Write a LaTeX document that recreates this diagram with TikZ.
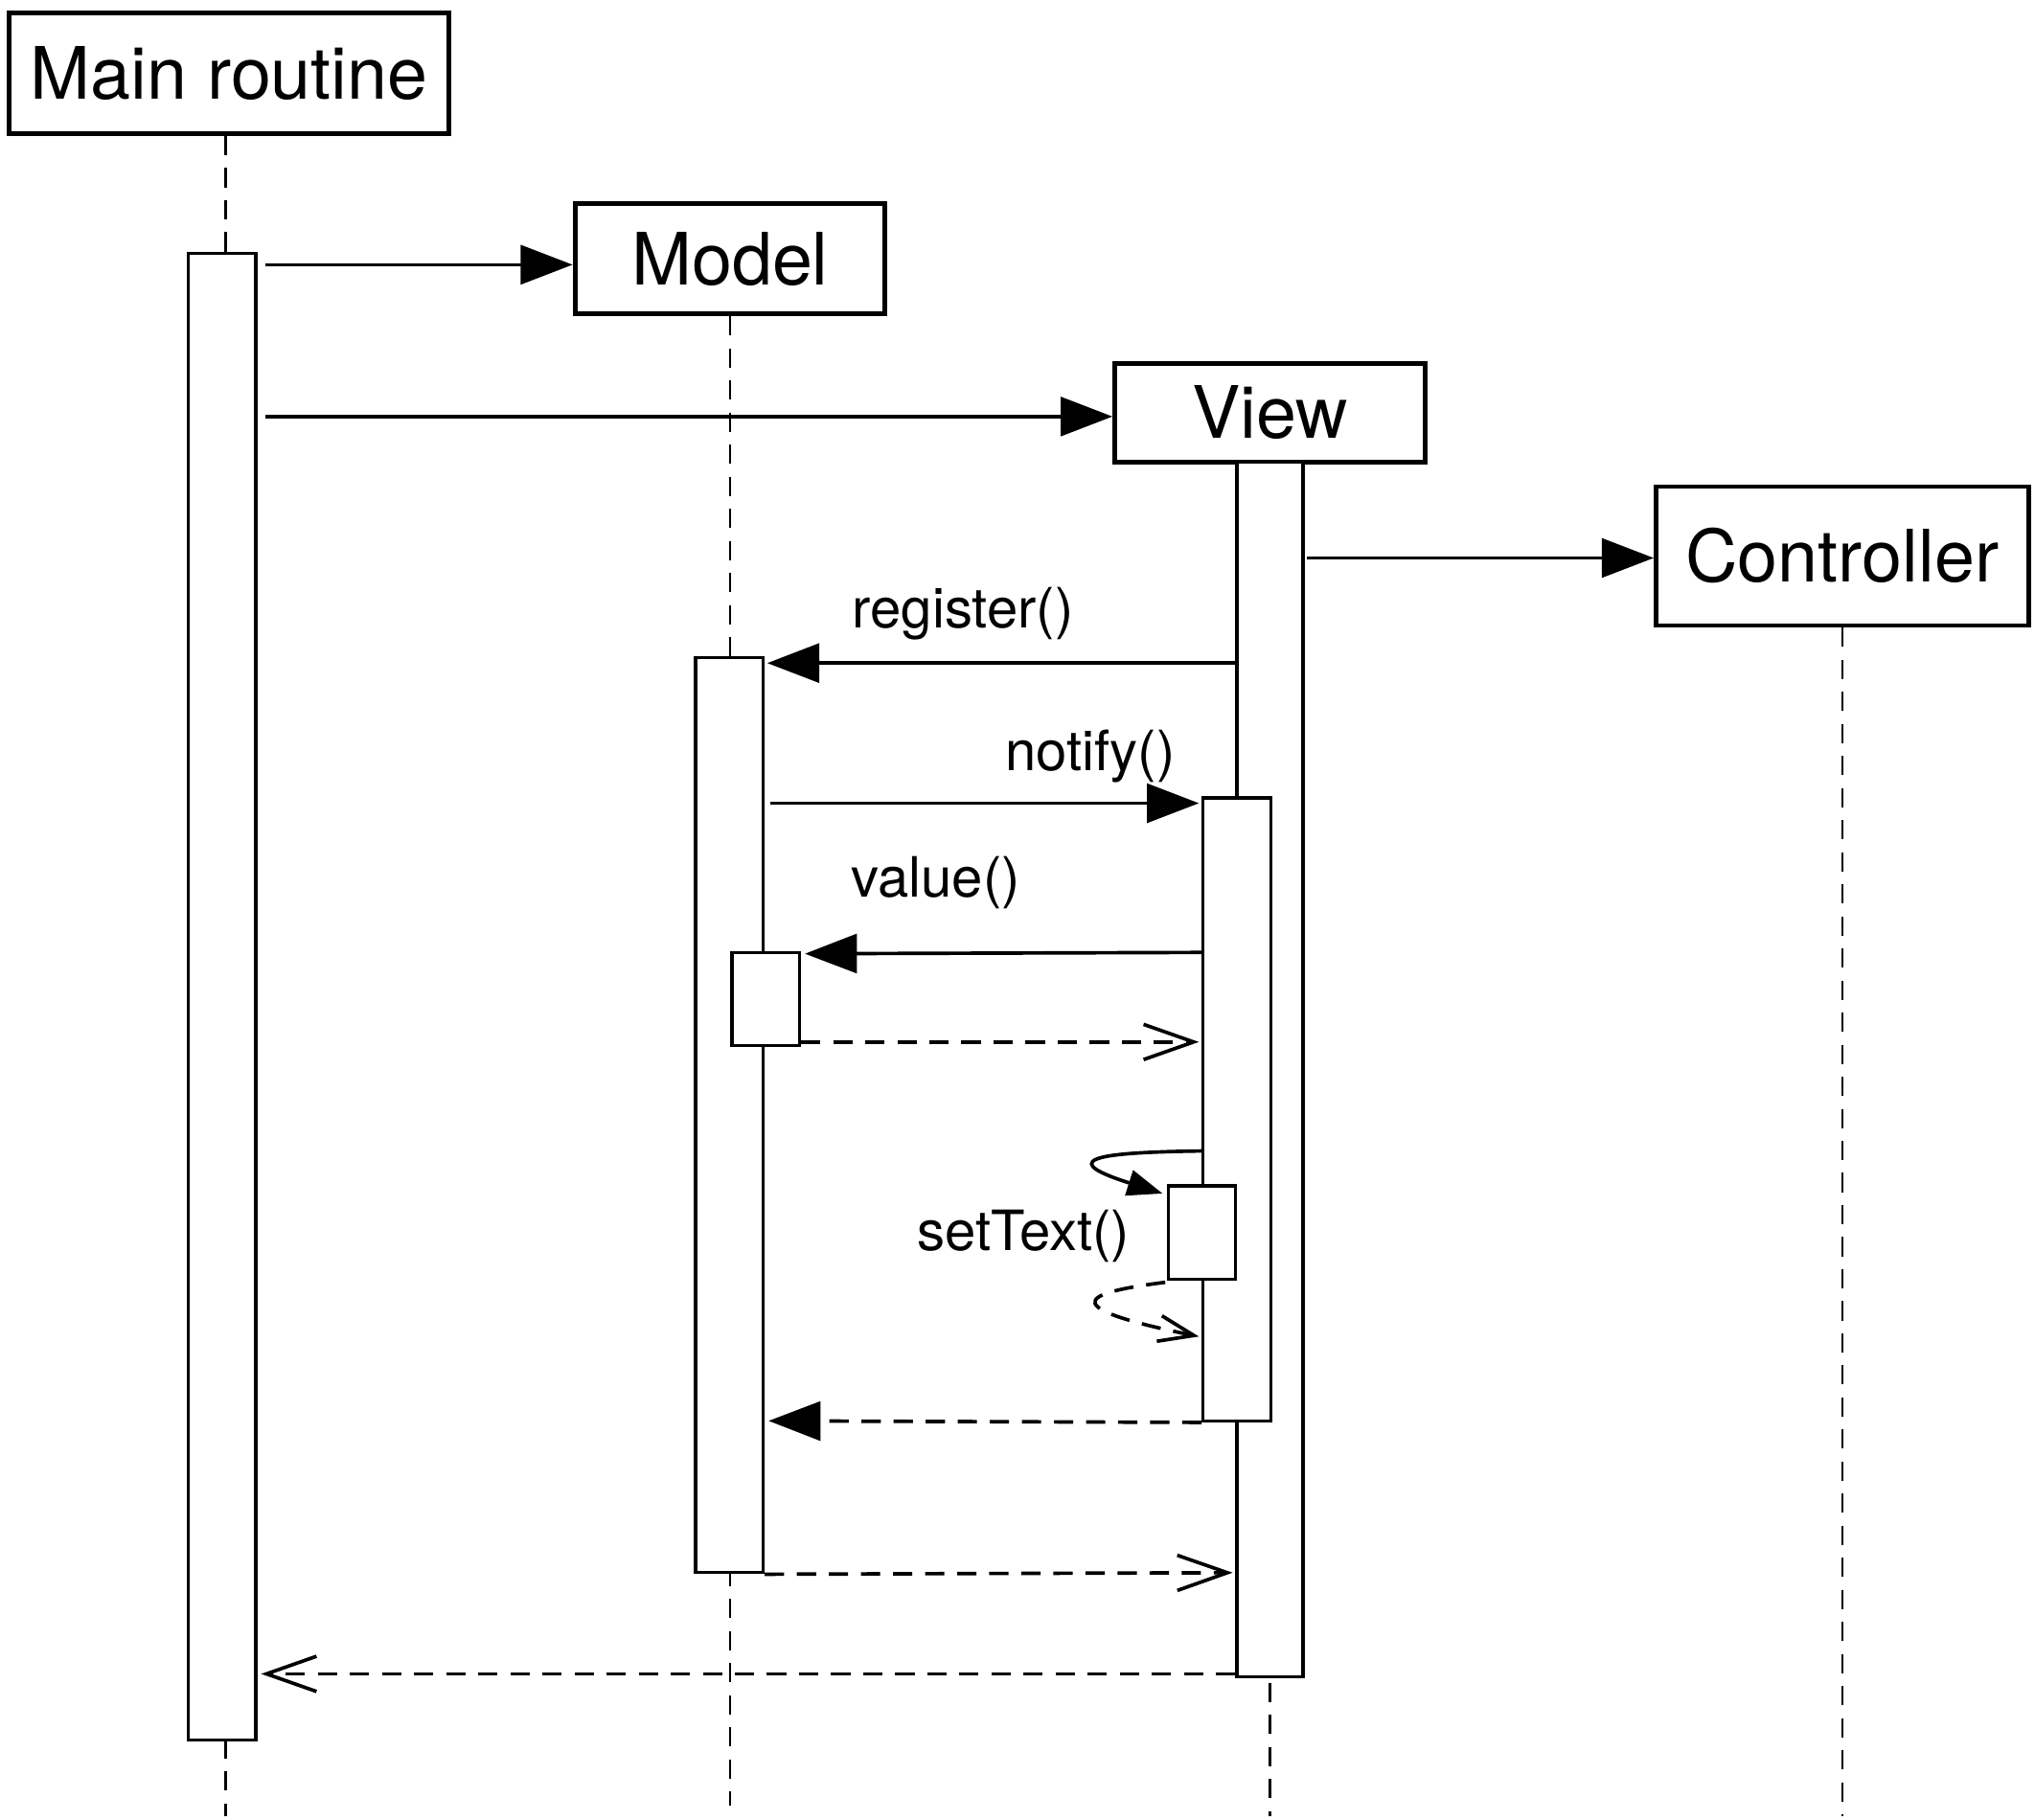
\documentclass[tikz,border=0pt]{standalone}
\usepackage{fontspec}
\setmainfont{TeX Gyre Heros}
\usetikzlibrary{arrows.meta,calc}
\def\ux{0.35pt}
\begin{document}
\begin{tikzpicture}[x=0.35pt,y=-0.35pt,
  obj/.style={draw,line width=1.25pt,rectangle,inner sep=0pt,font=\fontsize{19.5}{22}\selectfont},
  act/.style={draw,fill=white,line width=0.85pt,rectangle,inner sep=0pt,minimum width=52*\ux},
  life/.style={line width=0.7pt,dash pattern=on 5.2pt off 3.45pt},
  call/.style={line width=0.95pt,-{Triangle[length=14pt,width=10.5pt]}},
  ret/.style={line width=0.95pt,dash pattern=on 5.2pt off 3.45pt,-{Straight Barb[length=13.5pt,width=9.5pt]}},
  retf/.style={line width=0.95pt,dash pattern=on 5.2pt off 3.45pt,-{Triangle[length=14pt,width=10.5pt]}},
  lbl/.style={inner sep=0pt,font=\fontsize{15}{18}\selectfont}]
\useasboundingbox (0,0) rectangle (1568,1402);

% objects
\node[obj,minimum width=339*\ux,minimum height=93*\ux] (main) at (176.5,56.5) {Main routine};
\node[obj,minimum width=239*\ux,minimum height=85*\ux] (model) at (562.5,199.5) {Model};
\node[obj,minimum width=239*\ux,minimum height=76*\ux] (view) at (978.5,318) {View};
\node[obj,minimum width=287*\ux,minimum height=107*\ux] (ctrl) at (1419.5,428.5) {Controller};

% lifelines
\draw[life] ([xshift=-2.5*\ux]main.south) -- ++(0,1295);
\draw[life] (model.south) -- ++(0,1148);
\draw[life] (view.south) -- ++(0,1042);
\draw[life] (ctrl.south) -- ++(0,916);

% activations
\node[act,minimum height=1146*\ux] (actMain) at (171,768) {};
\node[act,minimum height=705*\ux] (actModel) at (562,859.5) {};
\node[act,minimum width=51*\ux,minimum height=936*\ux] (actView) at (978.5,824) {};
\node[act,minimum height=480*\ux] (actView2) at (953,855) {};
\node[act,minimum height=72*\ux] (actModel2) at (590,770) {};
\node[act,minimum height=72*\ux] (actSet) at (926,950) {};

% creation messages
\draw[call] ($(actMain.east|-0,204)+(6,0)$) -- (model.west|-0,204);
\draw[call] ($(actMain.east|-0,321)+(6,0)$) -- (view.west|-0,321);
\draw[call] ($(actView.east|-0,430)+(2,0)$) -- (ctrl.west|-0,430);

% register
\draw[call] (actView.west|-0,511) -- ($(actModel.east|-0,511)+(2,0)$);
\node[lbl] (lregister) at (742,473) {register()};

% notify
\draw[call] ($(actModel.east|-0,619)+(4,0)$) -- ($(actView2.west|-0,619)+(-2,0)$);
\node[lbl] (lnotify) at (840,583) {notify()};

% value
\draw[call] (actView2.west|-0,734) -- ($(actModel2.east|-0,735)+(3,0)$);
\node[lbl] (lvalue) at (721,680) {value()};
\draw[ret] (actModel2.east|-0,803) -- ($(actView2.west|-0,803)+(-2,0)$);

% setText self call
\draw[line width=0.95pt,-{Triangle[length=9.5pt,width=7pt]}]
  (actView2.west|-0,887) .. controls (860,888) and (805,891) .. ($(actSet.north west)+(-3,7)$);
\node[lbl] (lsettext) at (788.5,953) {setText()};
\draw[line width=0.95pt,dash pattern=on 5.2pt off 3.45pt,-{Straight Barb[length=9.5pt,width=7pt]}]
  ($(actSet.south west)+(-1,1)$) .. controls (845,995) and (800,1005) .. ($(actView2.west|-0,1030)+(-2,0)$);

% returns
\draw[retf] (actView2.south west) -- ($(actModel.east|-0,1095)+(3,0)$);
\draw[ret] (actModel.south east) -- ($(actView.west|-0,1212)+(-2,0)$);
\draw[ret] (actView.west|-0,1290) -- ($(actMain.east|-0,1290)+(3,0)$);
\end{tikzpicture}
\end{document}
